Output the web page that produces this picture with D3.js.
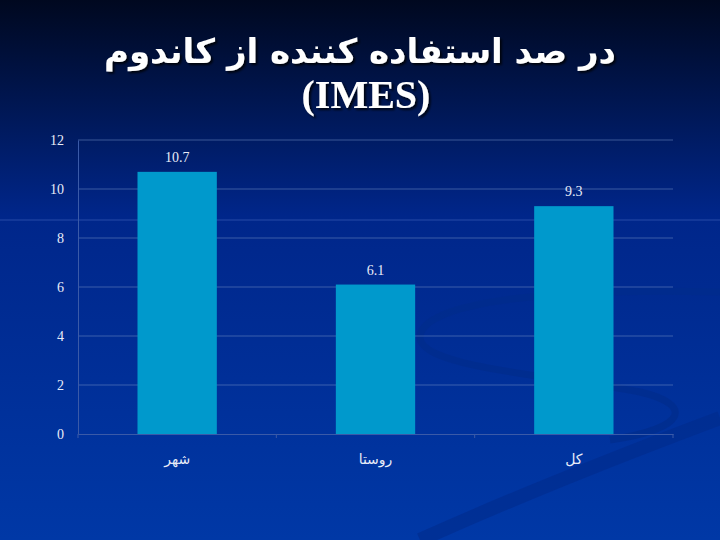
<!DOCTYPE html>
<html lang="fa">
<head>
<meta charset="UTF-8">
<title>IMES</title>
<script src="https://d3js.org/d3.v7.min.js"></script>
<style>
  body { margin: 0; background: #001a66; }
</style>
</head>
<body>
<script>
const categories = ["شهر", "روستا", "کل"];
const values = [10.7, 6.1, 9.3];
const yTicks = [0, 2, 4, 6, 8, 10, 12];

const W = 720, H = 540;
const svg = d3.select("body").append("svg").attr("width", W).attr("height", H);

const defs = svg.append("defs");
const bg = defs.append("linearGradient").attr("id", "bg").attr("x1", 0).attr("y1", 0).attr("x2", 0).attr("y2", 1);
bg.append("stop").attr("offset", "0%").attr("stop-color", "#00081f");
bg.append("stop").attr("offset", "40%").attr("stop-color", "#00268a");
bg.append("stop").attr("offset", "100%").attr("stop-color", "#0038a6");
const sh = defs.append("filter").attr("id", "shadow");
sh.append("feDropShadow").attr("dx", 2).attr("dy", 2).attr("stdDeviation", 1).attr("flood-color", "#000").attr("flood-opacity", 0.8);

svg.append("rect").attr("width", W).attr("height", H).attr("fill", "url(#bg)");
// slide decoration
svg.append("line").attr("x1", 0).attr("x2", W).attr("y1", 220).attr("y2", 220)
  .attr("stroke", "#1a3f9e").attr("stroke-width", 1.5);
svg.append("path").attr("d", "M720,292 C560,288 425,300 420,336 C416,368 560,376 640,392 C692,404 690,428 610,440")
  .attr("fill", "none").attr("stroke", "#002c8c").attr("stroke-width", 7).attr("opacity", 0.7);
svg.append("path").attr("d", "M720,418 C640,448 520,495 420,540")
  .attr("fill", "none").attr("stroke", "#002c8c").attr("stroke-width", 14).attr("opacity", 0.6);

// title
svg.append("text").attr("x", 360).attr("y", 63).attr("text-anchor", "middle")
  .attr("font-family", "DejaVu Sans, sans-serif").attr("font-weight", "bold").attr("font-size", 34)
  .attr("fill", "#fff").attr("filter", "url(#shadow)").attr("direction", "rtl")
  .text("در صد استفاده کننده از کاندوم");
svg.append("text").attr("x", 366).attr("y", 108).attr("text-anchor", "middle")
  .attr("font-family", "Liberation Serif, serif").attr("font-weight", "bold").attr("font-size", 40)
  .attr("fill", "#fff").attr("filter", "url(#shadow)")
  .text("(IMES)");

const m = { left: 78, right: 673, top: 140, bottom: 434 };
const x = d3.scaleBand().domain(categories).range([m.left, m.right]).paddingInner(0.6).paddingOuter(0.3);
const y = d3.scaleLinear().domain([0, 12]).range([m.bottom, m.top]);

const g = svg.append("g");
// gridlines
g.selectAll(".grid").data(yTicks.filter(d => d > 0)).join("line")
  .attr("x1", m.left).attr("x2", m.right)
  .attr("y1", d => y(d)).attr("y2", d => y(d))
  .attr("stroke", "#6a86c0").attr("stroke-width", 0.7).attr("opacity", 0.8);

// y axis
const yAxis = g.append("g").attr("transform", `translate(${m.left},0)`)
  .call(d3.axisLeft(y).tickValues(yTicks).tickSize(0).tickPadding(14));
yAxis.select(".domain").attr("stroke", "#3a5aa8");
yAxis.selectAll("text").attr("fill", "#e8ecf8").attr("font-family", "Liberation Serif, serif").attr("font-size", 14);

// x axis
const xAxis = g.append("g").attr("transform", `translate(0,${m.bottom})`)
  .call(d3.axisBottom(x).tickSize(0).tickPadding(20));
xAxis.select(".domain").attr("stroke", "#3a5aa8");
xAxis.selectAll("text").attr("fill", "#e8ecf8").attr("font-family", "DejaVu Sans, sans-serif").attr("font-size", 14);
g.selectAll(".xt").data(d3.range(4)).join("line")
  .attr("x1", d => m.left + d * (m.right - m.left) / 3).attr("x2", d => m.left + d * (m.right - m.left) / 3)
  .attr("y1", m.bottom).attr("y2", m.bottom + 4)
  .attr("stroke", "#3a5aa8");

// bars
g.selectAll(".bar").data(values).join("rect")
  .attr("x", (d, i) => x(categories[i]))
  .attr("width", x.bandwidth())
  .attr("y", d => y(d))
  .attr("height", d => y(0) - y(d))
  .attr("fill", "#0099cc");

g.selectAll(".lbl").data(values).join("text")
  .attr("x", (d, i) => x(categories[i]) + x.bandwidth() / 2)
  .attr("y", d => y(d) - 10)
  .attr("text-anchor", "middle")
  .attr("fill", "#e8ecf8").attr("font-family", "Liberation Serif, serif").attr("font-size", 14)
  .text(d => d);
</script>
</body>
</html>
